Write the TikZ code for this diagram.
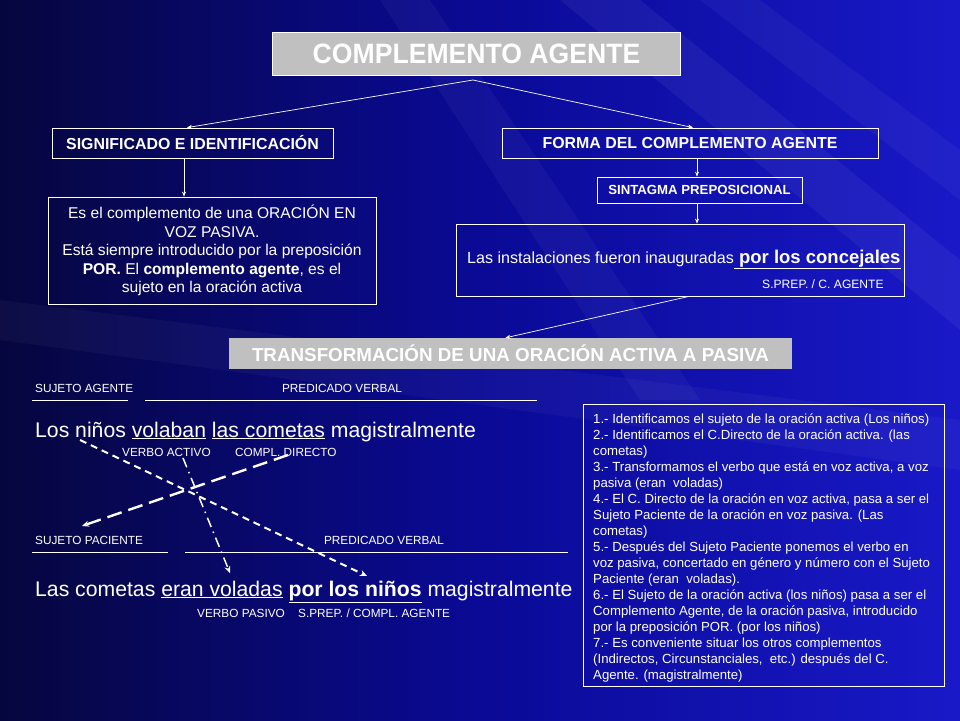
\documentclass[tikz,border=0pt]{standalone}
\usepackage{fontspec}
\setmainfont{Liberation Sans}
\newfontfamily\narrowf[FakeStretch=0.95]{Liberation Sans}
\usetikzlibrary{arrows.meta}
\definecolor{bgleft}{RGB}{6,6,62}
\definecolor{bgmid}{RGB}{10,10,150}
\definecolor{bgright}{RGB}{25,25,200}
\definecolor{boxgray}{RGB}{192,192,192}
\begin{document}
\begin{tikzpicture}[x=1pt,y=-1pt,
  every node/.style={text=white, inner sep=0pt},
  frame/.style={draw=white, line width=0.8pt},
  graybox/.style={fill=boxgray, draw=white, line width=0.6pt},
  link/.style={draw=white, line width=0.7pt, -{Stealth[length=5pt,width=4pt]}},
  lbl/.style={font=\fontsize{11.8}{13}\selectfont, anchor=west},
  sent/.style={font=\fontsize{21.2}{24}\selectfont, anchor=base west},
  uline/.style={draw=white, line width=0.8pt},
  dasharrow/.style={draw=white, line width=2pt, -{Stealth[length=7pt,width=6pt]}}
]
\useasboundingbox (0,0) rectangle (960,720);
\shade[left color=bgleft, right color=bgright, middle color=bgmid] (0,0) rectangle (960,720);
% faint streaks
\fill[white, opacity=0.05] (560,0) -- (640,0) -- (960,260) -- (960,330) -- cycle;
\fill[white, opacity=0.04] (700,0) -- (760,0) -- (960,150) -- (960,200) -- cycle;
\fill[white, opacity=0.04] (380,0) -- (430,0) -- (700,400) -- (640,400) -- cycle;
\fill[white, opacity=0.035] (0,300) -- (960,420) -- (960,470) -- (0,340) -- cycle;

% boxes
\node[graybox, minimum width=408pt, minimum height=43pt, font=\narrowf\bfseries\fontsize{28}{30}\selectfont] (title) at (476.5,53.5) {COMPLEMENTO AGENTE};
\node[frame, minimum width=281pt, minimum height=30pt, font=\bfseries\fontsize{15.9}{18}\selectfont] (sig) at (192.5,143) {SIGNIFICADO E IDENTIFICACIÓN};
\node[frame, minimum width=376pt, minimum height=30pt, font=\bfseries\fontsize{15.9}{18}\selectfont] (forma) at (690,143) {FORMA DEL COMPLEMENTO AGENTE};
\node[frame, minimum width=328pt, minimum height=107pt, align=center, font=\fontsize{15.6}{18.5}\selectfont] (es) at (212,250.5)
 {Es el complemento de una ORACIÓN EN\\VOZ PASIVA.\\Está siempre introducido por la preposición\\\textbf{POR.} El \textbf{complemento agente}, es el\\sujeto en la oración activa};
\node[frame, minimum width=205pt, minimum height=26pt, font=\bfseries\fontsize{13.2}{15}\selectfont] (sint) at (699.5,190) {SINTAGMA PREPOSICIONAL};
\node[frame, minimum width=448pt, minimum height=72pt] (las) at (680,260) {};
\node[anchor=base west, font=\fontsize{16.1}{19}\selectfont] (lastext) at (467,263)
 {Las instalaciones fueron inauguradas\underline{\fontsize{18.5}{21}\selectfont\bfseries\ por los concejales}};
\node[anchor=base west, font=\fontsize{12.1}{14}\selectfont] (sprep) at (762,288) {S.PREP. / C. AGENTE};
\node[fill=boxgray, minimum width=563pt, minimum height=31pt, font=\bfseries\fontsize{18.8}{21}\selectfont] (trans) at (510.5,353.5) {TRANSFORMACIÓN DE UNA ORACIÓN ACTIVA A PASIVA};

% connectors
\coordinate (fork) at (473,80);
\draw[link] (fork) -- ([xshift=-5.5pt]sig.north);
\draw[link] (fork) -- ([xshift=3pt]forma.north);
\draw[link] ([xshift=-8.5pt]sig.south) -- ([xshift=-8.5pt]sig.south |- es.north);
\draw[link] ([xshift=7pt]forma.south) -- ([xshift=7pt]forma.south |- sint.north);
\draw[link] ([xshift=-2.5pt]sint.south) -- ([xshift=-2.5pt]sint.south |- las.north);
\draw[link] ([xshift=9pt]las.south) -- ([xshift=-5pt]trans.north);

% active sentence
\node[lbl] (sa) at (35,388) {SUJETO AGENTE};
\node[lbl, anchor=center] (pv1) at (342,388) {PREDICADO VERBAL};
\draw[uline] (32,400) -- (128,400);
\draw[uline] (145,400) -- (537,400);
\node[sent] (s1) at (35,437) {Los niños \underline{volaban} \underline{las cometas} magistralmente};
\node[lbl] (va) at (122,452) {VERBO ACTIVO};
\node[lbl] (cd) at (235,452) {COMPL. DIRECTO};

% passive sentence
\node[lbl] (sp) at (35,540) {SUJETO PACIENTE};
\node[lbl, anchor=center] (pv2) at (384,540) {PREDICADO VERBAL};
\draw[uline] (32,552) -- (168,552);
\draw[uline] (185,552) -- (568,552);
\node[sent] (s2) at (35,596) {Las cometas \underline{eran voladas} \underline{\textbf{por los niños}} magistralmente};
\node[lbl] (vp) at (197,613) {VERBO PASIVO};
\node[lbl] (ca) at (298,613) {S.PREP. / COMPL. AGENTE};

% dashed arrows
\coordinate (a1s) at (80,440);  \coordinate (a1e) at (367,576);
\coordinate (a2s) at (288,455); \coordinate (a2e) at (82,526);
\coordinate (a3s) at (183,458); \coordinate (a3e) at (230,573);
\draw[dasharrow, dash pattern=on 7pt off 5pt] (a1s) -- (a1e);
\draw[dasharrow, line width=2.4pt, dash pattern=on 15pt off 7pt] (a2s) -- (a2e);
\draw[dasharrow, line width=1.5pt, dash pattern=on 10pt off 5pt on 1.5pt off 5pt] (a3s) -- (a3e);

% steps box
\node[frame, minimum width=361pt, minimum height=282pt] (steps) at (763.5,545) {};
\node[anchor=north west, align=left, font=\fontsize{13.2}{16}\selectfont] (stepstext) at (593,414)
 {1.- Identificamos el sujeto de la oración activa (Los niños)\\
2.- Identificamos el C.Directo de la oración activa. (las\\
cometas)\\
3.- Transformamos el verbo que está en voz activa, a voz\\
pasiva (eran\ \ voladas)\\
4.- El C. Directo de la oración en voz activa, pasa a ser el\\
Sujeto Paciente de la oración en voz pasiva. (Las\\
cometas)\\
5.- Después del Sujeto Paciente ponemos el verbo en\\
voz pasiva, concertado en género y número con el Sujeto\\
Paciente (eran\ \ voladas).\\
6.- El Sujeto de la oración activa (los niños) pasa a ser el\\
Complemento Agente, de la oración pasiva, introducido\\
por la preposición POR. (por los niños)\\
7.- Es conveniente situar los otros complementos\\
(Indirectos, Circunstanciales,\ \ etc.) después del C.\\
Agente. (magistralmente)};
\end{tikzpicture}
\end{document}
